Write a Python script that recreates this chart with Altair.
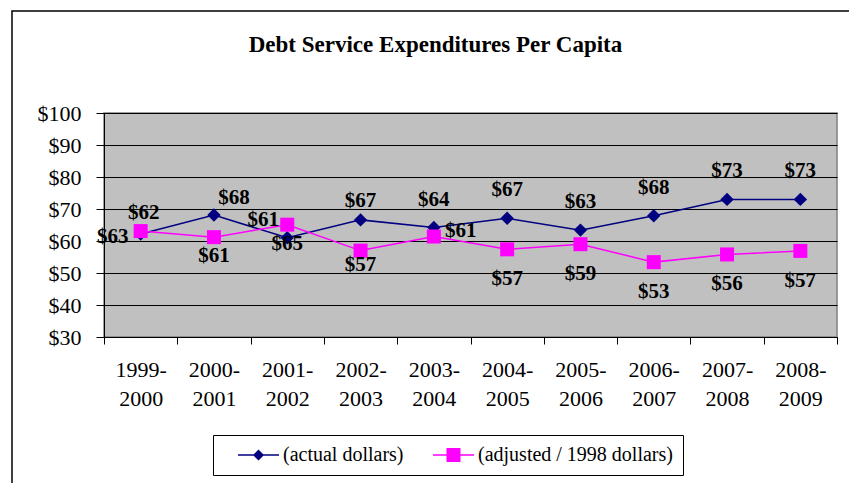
import altair as alt
import pandas as pd
import json

# ---- data ----
years = ["1999-2000", "2000-2001", "2001-2002", "2002-2003", "2003-2004",
         "2004-2005", "2005-2006", "2006-2007", "2007-2008", "2008-2009"]
actual = [62.2, 68.1, 61.0, 66.6, 64.2, 67.1, 63.4, 67.9, 73.0, 73.0]
adjusted = [63.1, 61.2, 65.1, 57.0, 61.4, 57.4, 59.0, 53.4, 55.8, 56.9]
series_names = ["(actual dollars)", "(adjusted / 1998 dollars)"]
y_ticks = [30, 40, 50, 60, 70, 80, 90, 100]
title_text = "Debt Service Expenditures Per Capita"

BLUE = "#000080"
PINK = "#FF00FF"
FONT = "Liberation Serif"

df = pd.DataFrame({
    "year": years * 2,
    "value": actual + adjusted,
    "series": [series_names[0]] * len(years) + [series_names[1]] * len(years),
})

W, H = 733, 224

x_enc = alt.X(
    "year:N", sort=years, title=None,
    scale=alt.Scale(type="band", paddingInner=0, paddingOuter=0),
    axis=alt.Axis(
        tickBand="extent", tickSize=7, tickColor="black", domainColor="black",
        labelAngle=0, labelFont=FONT, labelFontSize=22, labelColor="black",
        labelPadding=15, labelLineHeight=29, grid=False,
        labelExpr="[slice(datum.label, 0, 5), slice(datum.label, 5)]",
    ),
)
y_enc = alt.Y(
    "value:Q", title=None,
    scale=alt.Scale(domain=[30, 100], nice=False, zero=False),
    axis=alt.Axis(
        values=y_ticks, tickSize=8, tickColor="black", domainColor="black",
        gridColor="black", gridOpacity=1, gridWidth=1,
        labelFont=FONT, labelFontSize=22, labelColor="black", labelPadding=15,
        labelExpr="'$' + datum.value",
    ),
)

base = alt.Chart(df)

def series_layers(name, color, shape, size):
    sub = base.transform_filter(alt.datum.series == name)
    line = sub.mark_line(color=color, strokeWidth=1.5).encode(x=x_enc, y=y_enc)
    pts = sub.mark_point(shape=shape, filled=True, color=color, size=size, opacity=1).encode(x=x_enc, y=y_enc)
    return [line, pts]

def label_layer(name, cats, dx, dy):
    expr = "datum.series == {} && indexof({}, datum.year) >= 0".format(
        json.dumps(name), json.dumps(cats))
    return base.transform_filter(expr).mark_text(
        font=FONT, fontSize=21, fontWeight="bold", color="black",
        align="center", baseline="middle", dx=dx, dy=dy,
    ).encode(x=x_enc, y=y_enc, text=alt.Text("value:Q", format="$.0f"))

blue_labels = [
    label_layer(series_names[0], ["1999-2000"], 3, -21),
    label_layer(series_names[0], ["2000-2001"], 20, -17),
    label_layer(series_names[0], ["2001-2002"], -24, -18),
    label_layer(series_names[0], ["2002-2003"], 0, -19),
    label_layer(series_names[0], years[4:], 0, -28),
]
pink_labels = [
    label_layer(series_names[1], ["1999-2000"], -28, 6),
    label_layer(series_names[1], ["2000-2001", "2001-2002"], 0, 19),
    label_layer(series_names[1], ["2002-2003"], 0, 14),
    label_layer(series_names[1], ["2003-2004"], 27, -6),
    label_layer(series_names[1], years[5:], 0, 30),
]

# legend carrier layer (zero-size marks); legend symbols = thin bar + marker, all filled
legend_paths = [
    "M0.5,-0.075L4.6,-0.075L4.6,0.075L0.5,0.075ZM2.55,-0.55L3.1,0L2.55,0.55L2.0,0Z",
    "M0.5,-0.075L4.6,-0.075L4.6,0.075L0.5,0.075ZM1.85,-0.7L3.25,-0.7L3.25,0.7L1.85,0.7Z",
]
legend_layer = base.mark_point(filled=True, size=0, opacity=1).encode(
    x=x_enc, y=y_enc,
    color=alt.Color("series:N", scale=alt.Scale(domain=series_names, range=[BLUE, PINK]),
                    legend=alt.Legend(
                        title=None, orient="none", legendX=109, legendY=322,
                        direction="horizontal", padding=10,
                        strokeColor="black", fillColor="white",
                        labelFont=FONT, labelFontSize=20, labelColor="black",
                        labelLimit=400,
                        labelOffset=40, columnPadding=14,
                        symbolSize=400, symbolStrokeWidth=0, symbolOpacity=1,
                    )),
    shape=alt.Shape("series:N", scale=alt.Scale(domain=series_names, range=legend_paths)),
)

border = alt.Chart(pd.DataFrame({"a": [0]})).mark_rect(
    fillOpacity=0, stroke="black", strokeWidth=1.5
).encode(x=alt.value(-92), x2=alt.value(770), y=alt.value(-102), y2=alt.value(400))

layers = [border]
layers += series_layers(series_names[0], BLUE, "diamond", 180)
layers += series_layers(series_names[1], PINK, "square", 196)
layers += blue_labels + pink_labels + [legend_layer]

chart = alt.layer(*layers).properties(
    width=W, height=H,
    title=alt.TitleParams(
        text=title_text, font=FONT, fontSize=23, fontWeight="bold", color="black",
        anchor="middle", dx=-35, offset=-65, baseline="alphabetic",
    ),
    autosize=alt.AutoSizeParams(type="none"),
    padding={"left": 104, "top": 113, "right": 12, "bottom": 146},
).configure(
    background="white"
).configure_view(
    fill="#C0C0C0", stroke="#808080", strokeWidth=1.5
)

chart.save("out.html", embed_options={"renderer": "svg", "actions": False})
